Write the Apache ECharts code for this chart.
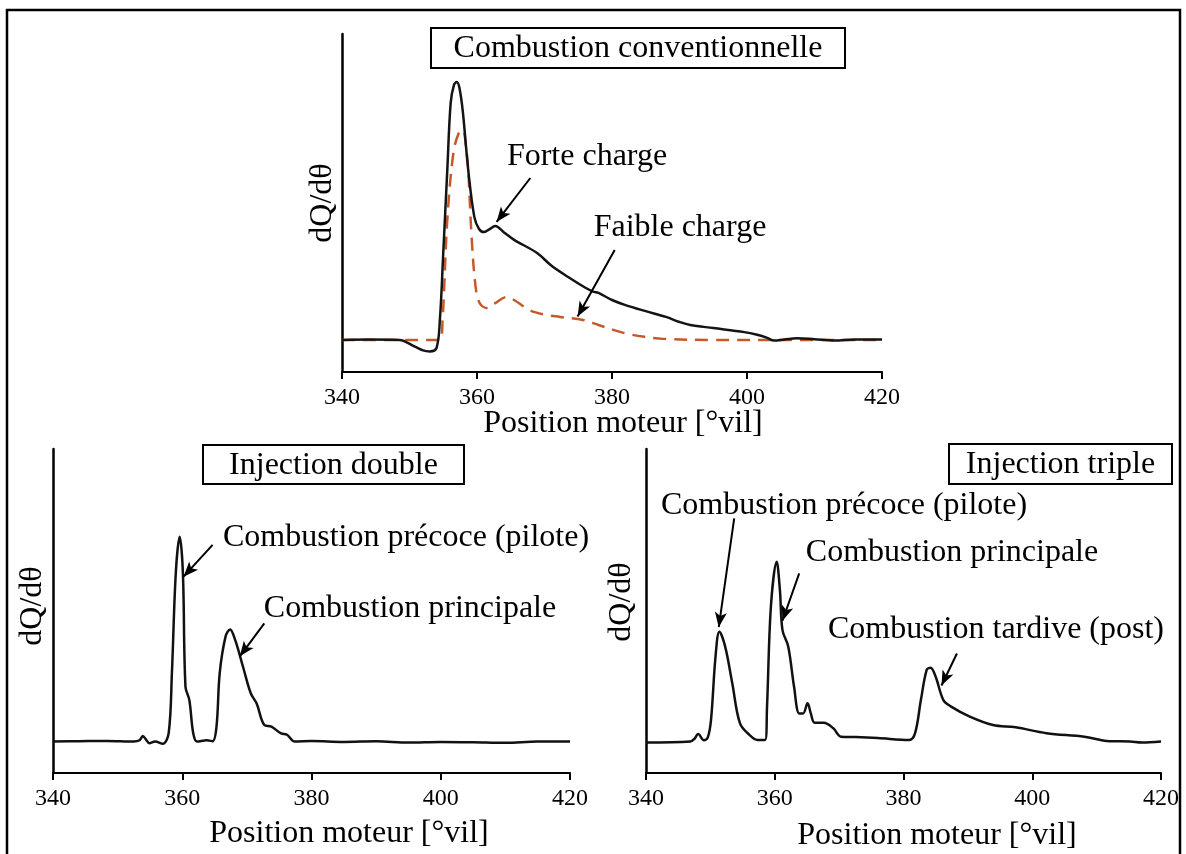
<!DOCTYPE html>
<html>
<head>
<meta charset="utf-8">
<script src="https://cdn.jsdelivr.net/npm/echarts@6/dist/echarts.min.js"></script>
<style>
  html, body { margin: 0; padding: 0; background: #fff; }
  #chart { width: 1186px; height: 854px; }
</style>
</head>
<body>
<div id="chart"></div>
<script>
// Heat-release rate dQ/dθ versus crank angle (°vil), arbitrary units 0–100.
const SERIF = "'Liberation Serif', 'Times New Roman', serif";

// Crank-angle axis range
const angleMin = 340;
const angleMax = 420;
const angleStep = 20;

// Conventional combustion, high load (solid)
const forteCharge = [
  [340, 9.5], [344, 9.6], [348.5, 9.5], [350.8, 7.5], [352, 6.4], [353, 6.1], [354, 7.1],
  [354.5, 15.4], [355, 35.2], [355.6, 59.8], [356.1, 79.6], [356.6, 85.0], [357, 85.8],
  [357.4, 84.0], [357.9, 77.0], [358.7, 59.8], [359.6, 45.9], [360.3, 42.3], [361, 41.4],
  [361.8, 42.2], [362.7, 43.2], [364, 41.3], [365.5, 39.1], [368.9, 35.2], [371, 31.5],
  [373.5, 28.1], [376, 25.0], [377.2, 23.8], [378, 23.4], [380, 21.3], [382, 19.8],
  [385, 18.0], [388, 16.3], [390, 14.8], [391.6, 13.9], [395, 13.0], [399.6, 11.8],
  [401.5, 11.0], [403, 10.1], [404, 9.3], [405.5, 9.6], [407.4, 10.0], [410, 9.7],
  [413, 9.3], [416, 9.6], [420, 9.6]
];

// Conventional combustion, low load (dashed)
const faibleCharge = [
  [340, 9.5], [350, 9.5], [354.5, 9.5], [354.9, 15.4], [355.6, 45.0], [356.5, 64.8],
  [357.3, 70.7], [357.9, 71.6], [358.4, 66.0], [358.7, 59.8], [359.2, 40.0], [359.8, 25.1],
  [360.4, 20.4], [361.5, 18.9], [362.7, 20.4], [364.4, 22.2], [365.5, 21.3], [367.8, 18.3],
  [370, 17.0], [372.3, 16.3], [375.7, 15.4], [378, 13.9], [380.3, 12.4], [382.5, 11.2],
  [384.8, 10.4], [387.6, 9.8], [395, 9.5], [405, 9.5], [420, 9.5]
];

// Double injection: pilot + main combustion
const injectionDouble = [
  [340, 9.7], [344, 9.8], [348.4, 9.9], [352.5, 9.7], [353.4, 10.1], [353.9, 11.4],
  [354.4, 10.3], [354.9, 9.2], [355.8, 9.7], [357, 9.0], [357.9, 12.3], [358.4, 30.9],
  [359, 61.7], [359.6, 72.9], [360.1, 61.7], [360.5, 26.6], [361.1, 22.5], [361.7, 12.3],
  [362.3, 9.7], [363.8, 10.1], [364.7, 9.8], [365.3, 14.3], [365.8, 30.9], [366.7, 42.1],
  [367.4, 44.3], [368.2, 41.0], [369.4, 32.8], [370.6, 24.6], [371.5, 21.5], [372.7, 14.8],
  [373.8, 14.3], [375.3, 12.2], [376.2, 11.8], [377.4, 9.7], [380, 9.9], [385, 9.6],
  [390, 9.8], [395, 9.4], [400, 9.6], [405, 9.5], [410, 9.3], [415, 9.7], [420, 9.7]
];

// Triple injection: pilot + main + post combustion
const injectionTriple = [
  [340, 9.4], [346.9, 9.7], [347.5, 10.5], [348.1, 12.0], [349, 10.1], [349.6, 11.0],
  [350.1, 16.4], [350.8, 35.9], [351.4, 43.6], [352.3, 39.0], [353.4, 27.7], [354.6, 15.3],
  [356.1, 11.7], [357.3, 10.2], [358.5, 10.2], [358.8, 20.5], [359.4, 51.3], [360.3, 65.2],
  [360.8, 56.5], [361.2, 44.1], [362.1, 39.0], [363, 26.6], [363.8, 18.4], [364.4, 18.4],
  [365.1, 21.5], [365.6, 18.4], [366.2, 15.5], [367.6, 15.5], [369.1, 13.8], [370.3, 11.2],
  [372.6, 11.1], [376, 10.8], [380.9, 10.2], [381.8, 12.3], [382.7, 22.5], [383.6, 31.8],
  [384.2, 32.5], [385, 29.7], [386.2, 22.5], [387.4, 20.5], [390.3, 17.4], [393.9, 14.8],
  [397.4, 14.1], [402.2, 12.3], [408.1, 11.2], [411.6, 9.9], [415.2, 9.7], [417, 9.4],
  [420, 9.7]
];

// Annotation arrows, [tail, tip] in (angle, dQ/dθ) units
const arrowsTop = [
  [[367.9, 57.4], [362.9, 44.4]],
  [[380.4, 36.1], [374.9, 16.4]]
];
const arrowsDouble = [
  [[364.7, 70.4], [360.2, 60.6]],
  [[372.7, 46.2], [368.9, 36.0]]
];
const arrowsTriple = [
  [[353.7, 78.6], [351.3, 45.0]],
  [[363.8, 61.6], [361.2, 47.0]],
  [[388.3, 36.9], [385.9, 27.0]]
];

const panelTitles = ['Combustion conventionnelle', 'Injection double', 'Injection triple'];
const xAxisTitle = 'Position moteur [°vil]';
const yAxisTitle = 'dQ/dθ';

const grids = [
  { left: 342, top: 34, width: 540, height: 338 },
  { left: 53, top: 449, width: 517, height: 324 },
  { left: 646, top: 449, width: 515, height: 324 }
];

function xAxisFor(i) {
  return {
    gridIndex: i, type: 'value', min: angleMin, max: angleMax, interval: angleStep,
    axisLine: { show: true, onZero: false, lineStyle: { color: '#000', width: 2 } },
    axisTick: { show: true, inside: false, length: 7, lineStyle: { color: '#000', width: 2 } },
    axisLabel: { color: '#000', fontFamily: SERIF, fontSize: 24, margin: 14 },
    splitLine: { show: false }
  };
}
function yAxisFor(i) {
  return {
    gridIndex: i, type: 'value', min: 0, max: 100,
    axisLine: { show: true, onZero: false, lineStyle: { color: '#000', width: 2.5 } },
    axisTick: { show: false }, axisLabel: { show: false }, splitLine: { show: false }
  };
}
function arrowMarks(list) {
  return {
    silent: true, animation: false,
    symbol: ['none', 'arrow'], symbolSize: [9, 15],
    lineStyle: { color: '#000', width: 2, type: 'solid' },
    label: { show: false },
    data: list.map(a => [{ coord: a[0] }, { coord: a[1] }])
  };
}
function curve(i, data, style, arrows) {
  const s = {
    type: 'line', xAxisIndex: i, yAxisIndex: i, data: data,
    showSymbol: false, symbol: 'none', smooth: 0.35, animation: false,
    lineStyle: style, z: 3
  };
  if (arrows) s.markLine = arrowMarks(arrows);
  return s;
}

const textStyle = (text, extra) => Object.assign({
  text: text, fontFamily: SERIF, fontSize: 32, fill: '#000',
  align: 'center', verticalAlign: 'middle'
}, extra || {});

function label(x, y, text, rot) {
  return { type: 'text', x: x, y: y, rotation: rot || 0, z: 10, style: textStyle(text) };
}
function titleBox(x, y, w, h, text) {
  return {
    type: 'group', z: 10, children: [
      { type: 'rect', shape: { x: x, y: y, width: w, height: h },
        style: { fill: '#fff', stroke: '#000', lineWidth: 2 } },
      { type: 'text', x: x + w / 2, y: y + h / 2 + 1, style: textStyle(text) }
    ]
  };
}

const chart = echarts.init(document.getElementById('chart'), null, { renderer: 'canvas' });
chart.setOption({
  backgroundColor: '#fff',
  animation: false,
  grid: grids,
  xAxis: [xAxisFor(0), xAxisFor(1), xAxisFor(2)],
  yAxis: [yAxisFor(0), yAxisFor(1), yAxisFor(2)],
  series: [
    curve(0, faibleCharge, { color: '#c4592a', width: 2.5, type: [13, 8] }, [arrowsTop[1]]),
    curve(0, forteCharge, { color: '#141414', width: 2.5 }, [arrowsTop[0]]),
    curve(1, injectionDouble, { color: '#111', width: 2.5 }, arrowsDouble),
    curve(2, injectionTriple, { color: '#111', width: 2.5 }, arrowsTriple)
  ],
  graphic: [
    { type: 'rect', z: 0, shape: { x: 7, y: 10, width: 1173, height: 860 },
      style: { fill: null, stroke: '#000', lineWidth: 2.5 } },
    titleBox(431, 28, 414, 40, panelTitles[0]),
    titleBox(203, 445, 261, 39, panelTitles[1]),
    titleBox(949, 444, 223, 40, panelTitles[2]),
    label(587, 157, 'Forte charge'),
    label(680, 228, 'Faible charge'),
    label(406, 538, 'Combustion précoce (pilote)'),
    label(410, 609, 'Combustion principale'),
    label(844, 506, 'Combustion précoce (pilote)'),
    label(952, 553, 'Combustion principale'),
    label(996, 630, 'Combustion tardive (post)'),
    label(323, 203, yAxisTitle, Math.PI / 2),
    label(33, 606, yAxisTitle, Math.PI / 2),
    label(622, 602, yAxisTitle, Math.PI / 2),
    label(623, 424, xAxisTitle),
    label(349, 834, xAxisTitle),
    label(937, 836, xAxisTitle)
  ]
});
</script>
</body>
</html>
